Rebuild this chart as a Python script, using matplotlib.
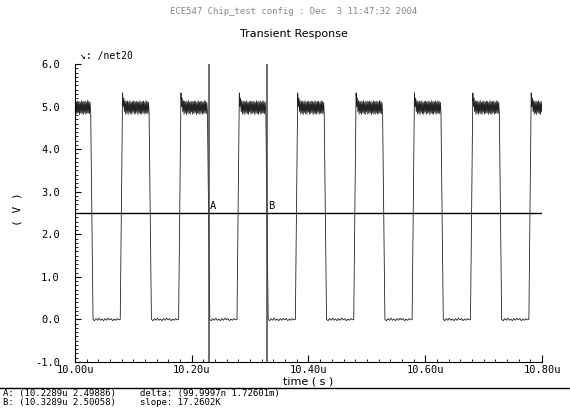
import matplotlib
matplotlib.use('Agg')
import matplotlib.pyplot as plt
import numpy as np
from matplotlib.lines import Line2D
from matplotlib.ticker import MultipleLocator, FuncFormatter

# edge times (us), 2.5 V crossings
rise_times = [9.9795, 10.0795, 10.1795, 10.2795, 10.3795, 10.4795, 10.5795, 10.6795, 10.7795]
fall_times = [10.0289, 10.1289, 10.2289, 10.3289, 10.4289, 10.5289, 10.6289, 10.7289, 10.8289]
edge = 0.004          # rise/fall time, us
v_high, v_low = 4.98, 0.0
# ringing on the high plateau and noise on the low one (V)
high_ripple = [0.34, 0.02, 0.22, -0.10, 0.16, -0.16, 0.14, -0.13, 0.15, -0.17, 0.13,
               -0.12, 0.16, -0.15, 0.12, -0.16, 0.14, -0.11, 0.15, -0.16, 0.13, -0.14,
               0.15, -0.12, 0.14, -0.17, 0.12, -0.13, 0.16, -0.15, 0.13, -0.16, 0.14,
               -0.12, 0.15, -0.16, 0.12, -0.14, 0.16, -0.13, 0.14, -0.15, 0.12, -0.12]
low_ripple = [0.0, -0.03, 0.02, -0.02, 0.03, -0.02, 0.01, -0.03, 0.02, -0.02, 0.03,
              -0.01, 0.02, -0.03, 0.01, -0.02, 0.02, -0.01, 0.0]

# cursors
cursor_names = ['A', 'B']
cursor_t = [10.2289, 10.3289]
cursor_v = [2.49886, 2.50058]
delta_t_n, delta_v_m, slope_k = 99.9997, 1.72601, 17.2602

W, H = 570, 411
t, v = [], []
for i, (r, f) in enumerate(zip(rise_times, fall_times)):
    t.append(r - edge / 2); v.append(v_low)
    t += list(np.linspace(r + edge / 2, f - edge / 2, len(high_ripple)))
    v += [v_high + d for d in high_ripple]
    nxt = rise_times[i + 1] if i + 1 < len(rise_times) else f + 0.05
    t += list(np.linspace(f + edge / 2, nxt - edge / 2, len(low_ripple)))
    v += [v_low + d for d in low_ripple]

mono = ['DejaVu Sans Mono', 'DejaVu Sans']
fig = plt.figure(figsize=(W / 100, H / 100), dpi=100)
ax = fig.add_axes([75 / W, 49 / H, 467 / W, 298 / H])
ax.plot(t, v, color='#222222', lw=0.6)
ax.axhline(2.5, color='black', lw=1)
for name, ct in zip(cursor_names, cursor_t):
    ax.axvline(ct, color='#444444', lw=1.1)
    ax.text(ct + 0.002, 2.55, name, fontsize=7.5, family=mono, ha='left', va='bottom')

ax.set_xlim(10.0, 10.8)
ax.set_ylim(-1.0, 6.0)
for s in ['top', 'right']:
    ax.spines[s].set_visible(False)
ax.xaxis.set_major_locator(MultipleLocator(0.2))
ax.xaxis.set_minor_locator(MultipleLocator(0.02))
ax.yaxis.set_major_locator(MultipleLocator(1.0))
ax.yaxis.set_minor_locator(MultipleLocator(0.1))
ax.xaxis.set_major_formatter(FuncFormatter(lambda x, p: f'{x:.2f}u'))
ax.yaxis.set_major_formatter(FuncFormatter(lambda y, p: f'{y:.1f}'))
ax.tick_params(which='both', direction='in', labelsize=7.5)
ax.tick_params(axis='y', which='major', length=4, pad=11)
ax.tick_params(axis='y', which='minor', length=2)
ax.tick_params(axis='x', which='major', length=5, pad=2)
ax.tick_params(axis='x', which='minor', length=2.5)
for lab in ax.get_xticklabels() + ax.get_yticklabels():
    lab.set_family(mono)

fig.text(294 / W, 1 - 12 / H, 'ECE547 Chip_test config : Dec  3 11:47:32 2004',
         ha='center', va='center', fontsize=6.5, color='#888888', family=mono)
fig.text(294 / W, 1 - 34 / H, 'Transient Response', ha='center', va='center', fontsize=8)
fig.text(80 / W, 1 - 56 / H, '\u2198: /net20', ha='left', va='center', fontsize=7, family=mono)
fig.text(18 / W, 1 - 209 / H, '( V )', ha='center', va='center', rotation=90, fontsize=8, family=mono)
fig.text(308 / W, 1 - 381 / H, 'time ( s )', ha='center', va='center', fontsize=8)

fig.add_artist(Line2D([0, 1], [1 - 388 / H] * 2, transform=fig.transFigure, color='black', lw=1))
for k, (name, ct, cv) in enumerate(zip(cursor_names, cursor_t, cursor_v)):
    fig.text(3 / W, 1 - (393 + 9 * k) / H, f'{name}: ({ct:.4f}u {cv:.5f})',
             ha='left', va='center', fontsize=6.5, family=mono)
fig.text(140 / W, 1 - 393 / H, f'delta: ({delta_t_n}n {delta_v_m}m)',
         ha='left', va='center', fontsize=6.5, family=mono)
fig.text(140 / W, 1 - 402 / H, f'slope: {slope_k}K', ha='left', va='center', fontsize=6.5, family=mono)

fig.savefig('out.png', dpi=100)
